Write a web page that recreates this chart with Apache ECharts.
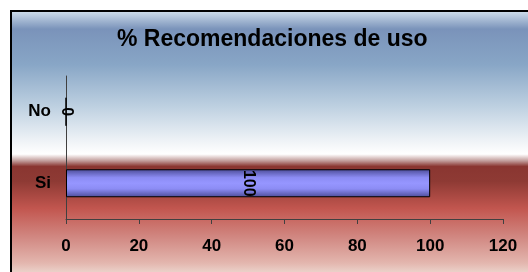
<!DOCTYPE html>
<html>
<head>
<meta charset="utf-8">
<script src="https://cdn.jsdelivr.net/npm/echarts@6/dist/echarts.min.js"></script>
<style>
  html, body { margin: 0; padding: 0; background: #fff; }
  #chart { width: 528px; height: 272px; }
</style>
</head>
<body>
<div id="chart"></div>
<script>
var categories = ['Si', 'No'];          // bottom to top
var values = [100, 0];                  // % of recommendations
var tickLabels = ['0', '20', '40', '60', '80', '100', '120'];

var chart = echarts.init(document.getElementById('chart'));
var font = "'Liberation Sans', Arial, sans-serif";

var option = {
    backgroundColor: '#ffffff',
    animation: false,
    graphic: [
        {
            type: 'rect',
            z: -10,
            shape: { x: 11, y: 11, width: 530, height: 270 },
            style: {
                fill: new echarts.graphic.LinearGradient(0, 0, 0, 1, [
                    { offset: 0.00, color: '#d4e2ee' },
                    { offset: 0.07, color: '#7a93ba' },
                    { offset: 0.20, color: '#88a6c6' },
                    { offset: 0.35, color: '#bccfe0' },
                    { offset: 0.49, color: '#f2f5f8' },
                    { offset: 0.53, color: '#ffffff' },
                    { offset: 0.555, color: '#c09a98' },
                    { offset: 0.575, color: '#8a3631' },
                    { offset: 0.63, color: '#8e3a34' },
                    { offset: 0.73, color: '#c2564f' },
                    { offset: 0.84, color: '#d28a84' },
                    { offset: 0.93, color: '#e3b6ae' },
                    { offset: 0.965, color: '#ebd2ca' },
                    { offset: 1.00, color: '#9a8882' }
                ]),
                stroke: '#000',
                lineWidth: 2
            }
        }
    ],
    title: {
        text: '% Recomendaciones de uso',
        left: 112,
        top: 23,
        textStyle: { fontFamily: font, fontSize: 23, fontWeight: 'bold', color: '#000' }
    },
    grid: { left: 66, right: 25, top: 76, bottom: 53, containLabel: false },
    xAxis: {
        type: 'value',
        min: 0,
        max: 120,
        interval: 20,
        axisLine: { show: true, lineStyle: { color: '#404040', width: 1 } },
        axisTick: { show: true, length: 5, lineStyle: { color: '#404040' } },
        splitLine: { show: false },
        axisLabel: {
            margin: 19,
            fontFamily: font, fontSize: 17, fontWeight: 'bold', color: '#000',
            formatter: function (v) { return tickLabels[Math.round(v / 20)]; }
        }
    },
    yAxis: {
        type: 'category',
        data: categories,
        axisLine: { show: true, lineStyle: { color: '#404040', width: 1 } },
        axisTick: { show: false },
        axisLabel: { margin: 15, fontFamily: font, fontSize: 17, fontWeight: 'bold', color: '#000' }
    },
    series: [
        {
            type: 'bar',
            data: values,
            barWidth: 28,
            itemStyle: {
                color: new echarts.graphic.LinearGradient(0, 0, 0, 1, [
                    { offset: 0, color: '#4c4c98' },
                    { offset: 0.3, color: '#8c8cf4' },
                    { offset: 0.5, color: '#9696ff' },
                    { offset: 0.7, color: '#8c8cf4' },
                    { offset: 1, color: '#4c4c98' }
                ]),
                borderColor: '#000',
                borderWidth: 1
            },
            label: {
                show: true,
                position: 'inside',
                rotate: -90,
                fontFamily: font,
                fontSize: 16,
                fontWeight: 'bold',
                color: '#000'
            }
        }
    ]
};

chart.setOption(option);
</script>
</body>
</html>
